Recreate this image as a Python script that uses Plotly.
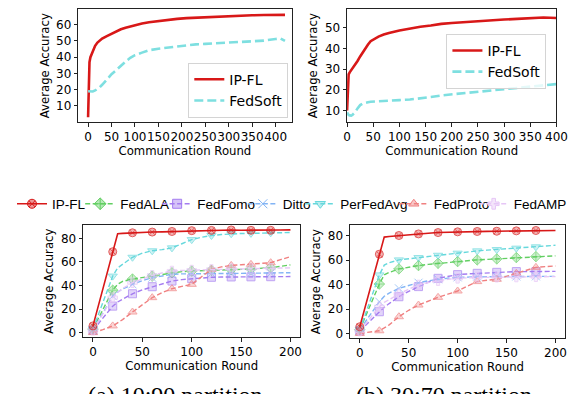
import plotly.graph_objects as go

# ---- top row: long runs, IP-FL vs FedSoft ----
top_a_rounds = [0, 1, 2, 3, 5, 8, 10, 15, 20, 25, 30, 40, 50, 60, 70, 80, 90, 100, 115, 130,
                150, 170, 190, 210, 230, 250, 275, 300, 325, 350, 375, 400, 410, 420]
top_a_ipfl = [3, 20, 32, 37, 40, 42.5, 44, 47, 49, 50.5, 51.5, 53, 54.5, 56, 57.2, 58.2, 59, 59.8, 60.8, 61.5,
              62.3, 63, 63.6, 64.1, 64.4, 64.6, 65, 65.3, 65.5, 65.8, 66, 66.3, 66.4, 66.1]
top_a_fedsoft = [19, 19, 18.8, 18.7, 18.6, 18.7, 18.9, 19.5, 20.3, 21.5, 23, 26.5, 29.5, 32, 34.8, 37.3, 39.6, 41.2, 42.8, 44.3,
                 45.2, 45.9, 46.6, 47.4, 47.9, 48.2, 48.6, 49, 49.5, 49.8, 50.2, 51.2, 51.6, 50]

top_b_rounds = [0, 1, 2, 3, 5, 8, 10, 15, 20, 25, 30, 35, 40, 45, 50, 60, 70, 80, 100, 120,
                140, 160, 180, 200, 225, 250, 275, 300, 325, 350, 375, 400]
top_b_ipfl = [10, 20, 25, 27.5, 28.5, 29.5, 30.2, 32, 34, 36.2, 38.3, 40.2, 42, 43.6, 44.4, 45.8, 46.8, 47.6, 48.8, 49.8,
              50.6, 51.2, 52, 52.4, 52.9, 53.3, 53.8, 54.1, 54.4, 54.7, 55.1, 54.8]
top_b_fedsoft = [9, 8.5, 8, 7.8, 7.6, 7.5, 7.8, 9, 11, 12.6, 13.4, 13.8, 14, 14.2, 14.3, 14.4, 14.6, 14.8, 15, 15.3,
                 15.8, 16.5, 17.3, 17.8, 18.7, 19.3, 20, 20.5, 21, 21.6, 22.2, 22.8]

# ---- bottom row: 200 rounds, all baselines ----
rounds = [0, 10, 20, 25, 30, 40, 50, 60, 70, 80, 90, 100, 110, 120, 130, 140, 150, 160, 170, 180, 190, 200]

# (a) 10:90 partition
ipfl_a = [5.7, 37, 68.7, 84, 84.3, 84.8, 85.1, 85.4, 85.6, 85.9, 86.3, 86.6, 86.7, 86.8, 87, 87.2, 87, 86.9, 86.9, 86.9, 87.1, 87.3]
fedala_a = [3, 20, 36, 41, 43.5, 45.5, 46.8, 48, 49.5, 50.8, 51.8, 52.3, 52.7, 53, 53.3, 53.5, 53.7, 54, 54.5, 55.2, 56.3, 57.5]
fedfomo_a = [2, 12, 22.5, 26, 28.5, 33, 36.3, 39, 41.7, 43.8, 45, 45.8, 46.5, 47, 47.2, 47.3, 47.3, 47.4, 47.4, 47.5, 47.5, 47.6]
ditto_a = [2, 17, 31, 34.5, 37, 41, 44.2, 46.6, 48.3, 49.5, 49.9, 50.1, 50.1, 50.1, 50.2, 50.2, 50.3, 50.3, 50.4, 50.5, 50.7, 50.9]
perfedavg_a = [3, 26, 48, 55, 58, 64, 67.5, 69.5, 70.5, 72, 75.5, 79, 81, 82.5, 83.3, 84, 84.2, 84.3, 84.5, 84.8, 84.8, 85]
fedproto_a = [0, 2.5, 5.7, 8.3, 11, 17.5, 23.8, 29.7, 34, 37.3, 39.3, 41, 47.5, 53.7, 55.8, 57.1, 57.6, 58, 58.6, 59.4, 62, 64.5]
fedamp_a = [2, 16, 29.7, 34, 37.5, 42.4, 45.8, 48.6, 50.7, 52.3, 52.8, 53.1, 53.4, 53.7, 54, 54.3, 54.3, 54.3, 54.5, 54.6, 54.8, 55]

# (b) 30:70 partition
ipfl_b = [5.5, 35, 65, 79, 79.5, 80.3, 81, 81.6, 82.2, 82.7, 83, 83.3, 83.5, 83.6, 83.7, 83.8, 84, 84.1, 84.3, 84.4, 84.4, 84.4]
fedala_b = [3, 22, 40.5, 48, 50, 52.9, 54.4, 55.6, 56.6, 57.5, 58.2, 58.9, 59.6, 60.3, 60.7, 61.1, 61.6, 62.2, 62.6, 63, 63.3, 63.6]
fedfomo_b = [2, 10, 17.8, 21.5, 24.5, 30.1, 34.5, 38.4, 42, 45.2, 47, 48.2, 48.8, 49.3, 49.7, 50.1, 50.4, 50.7, 50.7, 50.7, 50.8, 50.9]
ditto_b = [3, 15, 26, 30.5, 33, 37, 39.6, 41.6, 43.2, 44.4, 45.3, 46, 46.3, 46.6, 46.6, 46.6, 46.7, 46.7, 46.7, 46.8, 46.8, 46.8]
perfedavg_b = [3, 26, 48, 56, 58, 60.3, 61.3, 62.2, 63.2, 64.1, 65, 65.8, 66.8, 67.7, 68.3, 68.8, 69.3, 69.9, 70.5, 71, 71.7, 72.3]
fedproto_b = [0, 1, 2.2, 4.5, 7, 13.7, 19, 23.3, 26.7, 29.6, 32.2, 34.8, 38.8, 42.5, 43.6, 44.4, 46.8, 49.3, 51.8, 54.2, 54.8, 55.3]
fedamp_b = [2, 12, 21.9, 25.5, 28, 32.3, 36.3, 39.7, 41.8, 43.3, 44.4, 45.2, 45.7, 46, 46, 46.1, 46.2, 46.3, 46.4, 46.5, 46.5, 46.6]

methods = ["IP-FL", "FedALA", "FedFomo", "Ditto", "PerFedAvg", "FedProto", "FedAMP"]
series_a = [ipfl_a, fedala_a, fedfomo_a, ditto_a, perfedavg_a, fedproto_a, fedamp_a]
series_b = [ipfl_b, fedala_b, fedfomo_b, ditto_b, perfedavg_b, fedproto_b, fedamp_b]

colors = {"IP-FL": "#d81818", "FedALA": "#62cf62", "FedFomo": "#a47cf0", "Ditto": "#82b4f5",
          "PerFedAvg": "#66d8dc", "FedProto": "#f08080", "FedAMP": "#e6c6f6"}
symbols = {"IP-FL": "circle-x", "FedALA": "diamond-cross", "FedFomo": "square", "Ditto": "x-thin",
           "PerFedAvg": "triangle-down", "FedProto": "triangle-up", "FedAMP": "cross"}
soft_color = "#7edfe0"


def rgba(hex_color, a):
    h = hex_color.lstrip("#")
    return "rgba(%d,%d,%d,%s)" % (int(h[0:2], 16), int(h[2:4], 16), int(h[4:6], 16), a)


W, H = 578, 394

def px_x(a, b): return [a / W, b / W]
def px_y(top, bottom): return [1 - bottom / H, 1 - top / H]


fig = go.Figure()

# top panels
for (xr, ipfl, soft, xa, ya, lg) in [
    (top_a_rounds, top_a_ipfl, top_a_fedsoft, "x", "y", "legend"),
    (top_b_rounds, top_b_ipfl, top_b_fedsoft, "x2", "y2", "legend2"),
]:
    fig.add_trace(go.Scatter(x=xr, y=ipfl, mode="lines", name="IP-FL", xaxis=xa, yaxis=ya, legend=lg,
                             line=dict(color=colors["IP-FL"], width=2.6)))
    fig.add_trace(go.Scatter(x=xr, y=soft, mode="lines", name="FedSoft", xaxis=xa, yaxis=ya, legend=lg,
                             line=dict(color=soft_color, width=2.6, dash="9px,4px")))


def line_style(name):
    return dict(color=colors[name], width=1.6 if name == "IP-FL" else 1.4,
                dash="solid" if name == "IP-FL" else "5px,2.5px")


# bottom panels: markers every 20 rounds
mark_size = [8 if (r % 20 == 0 and r < 200) else 0 for r in rounds]
mark_lw = [1 if s else 0 for s in mark_size]

for data, xa, ya in [(series_a, "x3", "y3"), (series_b, "x4", "y4")]:
    order = list(range(1, len(methods))) + [0]   # IP-FL on top
    for i in order:
        name = methods[i]
        c = colors[name]
        fig.add_trace(go.Scatter(
            x=rounds, y=data[i], mode="lines+markers", name=name, xaxis=xa, yaxis=ya,
            showlegend=False, line=line_style(name),
            marker=dict(symbol=symbols[name], size=mark_size, color=rgba(c, 0.45),
                        line=dict(color=c, width=mark_lw)),
        ))

# shared legend row (legend-only entries)
for i, name in enumerate(methods):
    c = colors[name]
    fig.add_trace(go.Scatter(
        x=[None], y=[None], mode="lines+markers", name=name, xaxis="x3", yaxis="y3",
        legend="legend%d" % (i + 3), line=line_style(name),
        marker=dict(symbol=symbols[name], size=9, color=rgba(c, 0.45), line=dict(color=c, width=1)),
    ))

axis_style = dict(showline=True, mirror=True, linecolor="#222", linewidth=0.9, ticks="outside",
                  ticklen=3.5, tickwidth=0.9, tickcolor="#222", showgrid=False, zeroline=False,
                  tickfont=dict(size=12, color="black"), tickangle=0)
xtitle = dict(text="Communication Round", font=dict(size=11.7, color="black"), standoff=2)
ytitle = dict(text="Average Accuracy", font=dict(size=11.7, color="black"), standoff=4)

fig.update_layout(
    width=W, height=H, margin=dict(l=0, r=0, t=0, b=0),
    paper_bgcolor="white", plot_bgcolor="white",
    font=dict(family="DejaVu Sans", size=12, color="black"),
    xaxis=dict(axis_style, domain=px_x(68, 287), anchor="y", range=[-21, 434],
               tickvals=[0, 50, 100, 150, 200, 250, 300, 350, 400], title=xtitle),
    yaxis=dict(axis_style, domain=px_y(1, 115), anchor="x", range=[-0.2, 69.7],
               tickvals=[10, 20, 30, 40, 50, 60], title=ytitle),
    xaxis2=dict(axis_style, domain=px_x(344, 559), anchor="y2", range=[0, 400],
                tickvals=[0, 50, 100, 150, 200, 250, 300, 350, 400], title=xtitle),
    yaxis2=dict(axis_style, domain=px_y(1, 115), anchor="x2", range=[4.2, 59.2],
                tickvals=[10, 20, 30, 40, 50], title=ytitle),
    xaxis3=dict(axis_style, domain=px_x(73, 296), anchor="y3", range=[-10, 210],
                tickvals=[0, 50, 100, 150, 200], title=xtitle),
    yaxis3=dict(axis_style, domain=px_y(218, 331), anchor="x3", range=[-4, 91.5],
                tickvals=[0, 20, 40, 60, 80], title=ytitle),
    xaxis4=dict(axis_style, domain=px_x(347, 568), anchor="y4", range=[-10, 210],
                tickvals=[0, 50, 100, 150, 200], title=xtitle),
    yaxis4=dict(axis_style, domain=px_y(218, 332), anchor="x4", range=[-4, 89],
                tickvals=[0, 20, 40, 60, 80], title=ytitle),
)

box_legend = dict(xanchor="left", yanchor="top", bgcolor="rgba(255,255,255,0.8)",
                  bordercolor="#d4d4d4", borderwidth=1, font=dict(size=14, color="black"),
                  itemwidth=30)
fig.update_layout(legend=dict(box_legend, x=181 / W, y=1 - 55 / H),
                  legend2=dict(box_legend, x=446 / W, y=1 - 26 / H))

row_left = [0, 70, 149, 237, 296, 392, 474]
for i, lx in enumerate(row_left):
    fig.update_layout({"legend%d" % (i + 3): dict(
        x=lx / W, y=1 - 197 / H, xanchor="left", yanchor="middle", orientation="h",
        bgcolor="rgba(0,0,0,0)", borderwidth=0,
        font=dict(family="Liberation Sans", size=13.5, color="black"))})

for txt, cx in [("(a) 10:90 partition", 168), ("(b) 30:70 partition", 443)]:
    fig.add_annotation(text=txt, x=cx / W, y=1 - 389 / H, xref="paper", yref="paper",
                       xanchor="center", yanchor="middle", showarrow=False,
                       font=dict(family="Liberation Serif", size=24, color="black"))

fig.write_html("out.html")
